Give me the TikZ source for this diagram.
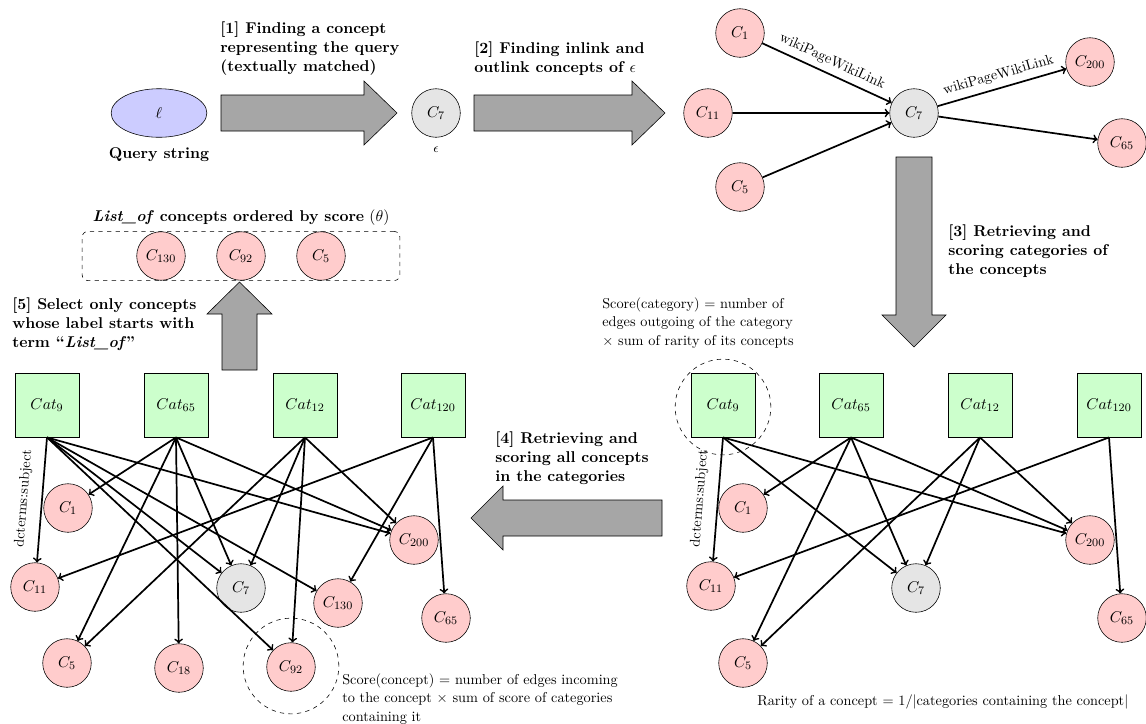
\documentclass[11pt,tikz,border=0pt]{standalone}
\usepackage{amsmath}
\usepackage{amssymb}
\usepackage{tikz}
\usetikzlibrary{shapes.geometric,fit}
\tikzset{
	concept/.style={circle,draw,fill=red!20,minimum size=34pt,inner sep=0pt},
	seed/.style={circle,draw,fill=gray!20,minimum size=34pt,inner sep=0pt},
	cat/.style={rectangle,draw,fill=green!20,minimum size=45pt,inner sep=0pt},
	link/.style={->,very thick},
	linklabel/.style={midway,sloped,above,font=\small},
	bigarrow/.style={draw,fill=gray!70},
	steptext/.style={font=\bfseries,align=left,anchor=north west,inner sep=0pt},
	note/.style={font=\fontsize{10}{13}\selectfont,align=left,anchor=north west,inner sep=0pt},
	spot/.style={circle,draw,dashed,minimum size=67pt}
}

\begin{document}
\begin{tikzpicture}[x=0.7pt,y=-0.7pt]
	\useasboundingbox (0,0) rectangle (1146,723);

	% step 1: query string to concept
	\node [ellipse,draw,fill=blue!20,minimum width=67pt,minimum height=34pt] (query) at (159,113) {$\ell$};
	\node [font=\bfseries] (querytext) at (159,155) {Query string};
	\node [seed,label={[font=\footnotesize,label distance=3pt]below:$\epsilon$}] (eps) at (436,113) {$C_{7}$};
	\node [steptext] (s1) at (220,21) {[1] Finding a concept\\representing the query\\(textually matched)};
	\draw [bigarrow] (221,95) -- (364,95) -- (364,81) -- (397,113) -- (364,145) -- (364,131) -- (221,131) -- cycle;

	% step 2: in- and outlinks
	\node [steptext] (s2) at (474,41) {[2] Finding inlink and\\outlink concepts of $\epsilon$};
	\draw [bigarrow] (474,95) -- (632,95) -- (632,81) -- (665,113) -- (632,145) -- (632,131) -- (474,131) -- cycle;

	\node [concept] (tc1) at (740,33) {$C_{1}$};
	\node [concept] (tc11) at (708,113) {$C_{11}$};
	\node [concept] (tc5) at (740,187) {$C_{5}$};
	\node [seed] (tc7) at (914,113) {$C_{7}$};
	\node [concept] (tc200) at (1090,62) {$C_{200}$};
	\node [concept] (tc65) at (1122,143) {$C_{65}$};

	\draw [link] (tc1) -- node [linklabel] {wikiPageWikiLink} (tc7);
	\draw [link] (tc11) -- (tc7);
	\draw [link] (tc5) -- (tc7);
	\draw [link] (tc7) -- node [linklabel] {wikiPageWikiLink} (tc200);
	\draw [link] (tc7) -- (tc65);

	% step 3: categories of the concepts
	\node [steptext] (s3) at (948,224) {[3] Retrieving and\\scoring categories of\\the concepts};
	\draw [bigarrow] (896,157) -- (932,157) -- (932,315) -- (946,315) -- (914,347) -- (882,315) -- (896,315) -- cycle;
	\node [note] (catscore) at (602,297) {Score(category) = number of\\edges outgoing of the category\\$\times$ sum of rarity of its concepts};

	\node [cat] (rcat9) at (723,405) {$Cat_{9}$};
	\node [cat] (rcat65) at (851,405) {$Cat_{65}$};
	\node [cat] (rcat12) at (980,405) {$Cat_{12}$};
	\node [cat] (rcat120) at (1109,405) {$Cat_{120}$};
	\node [spot] (rspot) at (723,407) {};

	\node [concept] (rc1) at (743,508) {$C_{1}$};
	\node [concept] (rc11) at (711,586) {$C_{11}$};
	\node [seed] (rc7) at (916,588) {$C_{7}$};
	\node [concept] (rc200) at (1090,540) {$C_{200}$};
	\node [concept] (rc65) at (1122,618) {$C_{65}$};
	\node [concept] (rc5) at (743,663) {$C_{5}$};

	\draw [link] (rcat9.south) -- node [linklabel,above=4pt] {dcterms:subject} (rc11);
	\draw [link] (rcat9.south) -- (rc7);
	\draw [link] (rcat9.south) -- (rc200);
	\draw [link] (rcat65.south) -- (rc1);
	\draw [link] (rcat65.south) -- (rc5);
	\draw [link] (rcat65.south) -- (rc7);
	\draw [link] (rcat65.south) -- (rc200);
	\draw [link] (rcat12.south) -- (rc200);
	\draw [link] (rcat12.south) -- (rc7);
	\draw [link] (rcat12.south) -- (rc5);
	\draw [link] (rcat120.south) -- (rc11);
	\draw [link] (rcat120.south) -- (rc65);

	\node [note,anchor=base west] (rarity) at (757,705) {Rarity of a concept = $1/|$categories containing the concept$|$};

	% step 4: all concepts in the categories
	\node [steptext] (s4) at (495,431) {[4] Retrieving and\\scoring all concepts\\in the categories};
	\draw [bigarrow] (662,500) -- (503,500) -- (503,486) -- (471,518) -- (503,550) -- (503,536) -- (662,536) -- cycle;

	\node [cat] (lcat9) at (47,405) {$Cat_{9}$};
	\node [cat] (lcat65) at (176,405) {$Cat_{65}$};
	\node [cat] (lcat12) at (305,405) {$Cat_{12}$};
	\node [cat] (lcat120) at (433,405) {$Cat_{120}$};

	\node [concept] (lc1) at (68,508) {$C_{1}$};
	\node [concept] (lc11) at (35,587) {$C_{11}$};
	\node [seed] (lc7) at (241,588) {$C_{7}$};
	\node [concept] (lc200) at (414,540) {$C_{200}$};
	\node [concept] (lc130) at (338,603) {$C_{130}$};
	\node [concept] (lc65) at (446,618) {$C_{65}$};
	\node [concept] (lc5) at (67,663) {$C_{5}$};
	\node [concept] (lc18) at (179,668) {$C_{18}$};
	\node [concept] (lc92) at (291,667) {$C_{92}$};
	\node [spot] (lspot) at (291,666) {};

	\draw [link] (lcat9.south) -- node [linklabel,above=4pt] {dcterms:subject} (lc11);
	\draw [link] (lcat9.south) -- (lc7);
	\draw [link] (lcat9.south) -- (lc200);
	\draw [link] (lcat9.south) -- (lc130);
	\draw [link] (lcat9.south) -- (lc92);
	\draw [link] (lcat65.south) -- (lc1);
	\draw [link] (lcat65.south) -- (lc5);
	\draw [link] (lcat65.south) -- (lc18);
	\draw [link] (lcat65.south) -- (lc7);
	\draw [link] (lcat65.south) -- (lc200);
	\draw [link] (lcat12.south) -- (lc5);
	\draw [link] (lcat12.south) -- (lc7);
	\draw [link] (lcat12.south) -- (lc92);
	\draw [link] (lcat12.south) -- (lc200);
	\draw [link] (lcat120.south) -- (lc11);
	\draw [link] (lcat120.south) -- (lc130);
	\draw [link] (lcat120.south) -- (lc65);

	\node [note] (conscore) at (342,673) {Score(concept) = number of edges incoming\\to the concept $\times$ sum of score of categories\\containing it};

	% step 5: keep the List_of concepts
	\draw [bigarrow] (222,370) -- (222,314) -- (207,314) -- (239.5,282) -- (272,314) -- (257,314) -- (257,370) -- cycle;
	\node [steptext] (s5) at (12,297) {[5] Select only concepts\\whose label starts with\\term ``\textit{List\_of}''};

	\node [concept] (sc130) at (161,256) {$C_{130}$};
	\node [concept] (sc92) at (241,256) {$C_{92}$};
	\node [concept] (sc5) at (321,256) {$C_{5}$};
	\node [draw,dashed,rounded corners,fit=(sc130)(sc92)(sc5),inner xsep=38pt,inner ysep=0pt,
		label={above:\textbf{\textit{List\_of} concepts ordered by score} $(\theta)$}] (shortlist) {};
\end{tikzpicture}
\end{document}
